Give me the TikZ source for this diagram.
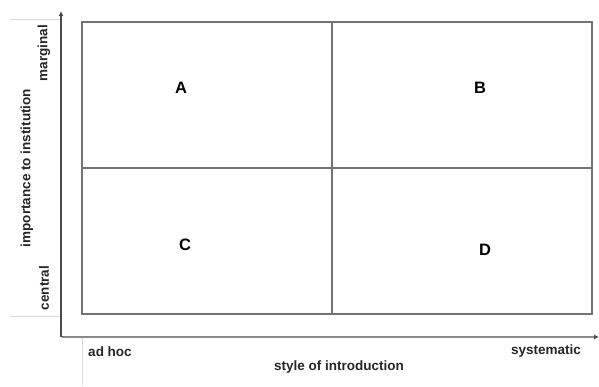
\documentclass[tikz,border=0pt]{standalone}
\usepackage{fontspec}
\setmainfont{Liberation Sans}
\usetikzlibrary{arrows.meta}
\begin{document}
\begin{tikzpicture}[x=1pt,y=-1pt,
  boxline/.style={draw=black!55,line width=1.4pt},
  axisline/.style={draw=black!70,line width=1.3pt},
  faint/.style={draw=black!15,line width=0.8pt},
  quad/.style={font=\fontsize{16.5}{18}\selectfont\bfseries},
  lbl/.style={font=\fontsize{13.5}{15}\selectfont\bfseries,text=black!85,inner sep=0pt}]
\useasboundingbox (0,0) rectangle (599,386);
% faint guide lines
\draw[faint] (10,19) -- (61,19);
\draw[faint] (10,316) -- (61,316);
\draw[faint] (82,337) -- (82,386);
% box
\coordinate (tl) at (82,22);
\coordinate (br) at (592,314);
\draw[boxline] (tl) rectangle (br);
\coordinate (mt) at (332,22);
\coordinate (mb) at (332,314);
\coordinate (ml) at (82,168);
\coordinate (mr) at (592,168);
\draw[boxline] (mt) -- (mb);
\draw[boxline] (ml) -- (mr);
% axes
\coordinate (o) at (61,337);
\coordinate (ytop) at (61,11);
\coordinate (xend) at (599,337);
\draw[axisline,-{Latex[length=5pt,width=5pt]}] (o) -- (ytop);
\draw[axisline,-{Latex[length=5pt,width=5pt]},rounded corners=2pt] (61,300) -- (o) -- (xend);
% quadrant letters
\node[quad] (A) at (181,88) {A};
\node[quad] (B) at (480,88) {B};
\node[quad] (C) at (185,245) {C};
\node[quad] (D) at (485,250) {D};
% axis labels
\node[lbl,rotate=90] (marg) at (44,53) {marginal};
\node[lbl,rotate=90] (cent) at (44,288) {central};
\node[lbl,rotate=90] (imp) at (27,168) {importance to institution};
\node[lbl] (adhoc) at (110,352) {ad hoc};
\node[lbl] (sys) at (546,351) {systematic};
\node[lbl] (style) at (339,367) {style of introduction};
\end{tikzpicture}
\end{document}
